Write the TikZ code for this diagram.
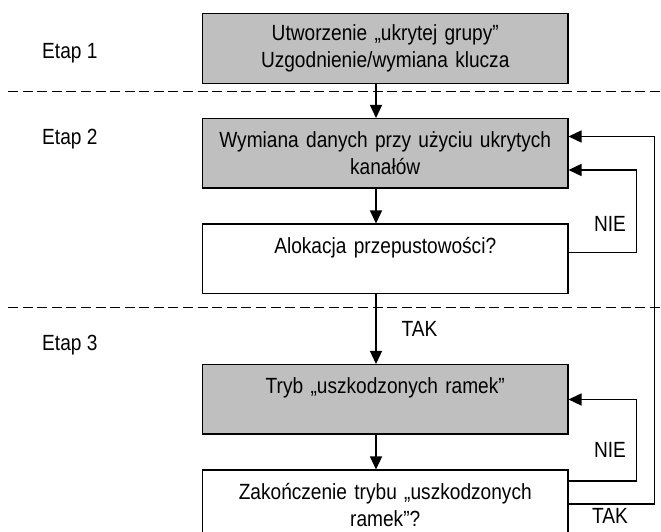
\documentclass[tikz,border=0pt]{standalone}
\usepackage{fontspec}
\setmainfont{Liberation Sans}[FakeStretch=0.87]
\usetikzlibrary{positioning,arrows.meta}

\begin{document}
\begin{tikzpicture}[
    font=\fontsize{12.5}{15.4}\selectfont,
    stepbox/.style={draw,line width=0.85pt,minimum width=7.3cm,minimum height=1.39cm,
                    text width=7cm,align=center,inner sep=0pt},
    grey/.style={fill=black!25},
    flow/.style={line width=0.85pt,-{Triangle[length=7.4pt,width=6.8pt]}},
    stage/.style={draw,line width=0.85pt,dash pattern=on 5.7pt off 2.6pt}]
\useasboundingbox (0,0) rectangle (13.22,-10.62);
% boxes
\node [stepbox,grey,anchor=north west] (b1) at (4.04,-0.26)
    {Utworzenie „ukrytej grupy”\\Uzgodnienie/wymiana klucza};
\node [stepbox,grey,below=0.68cm of b1] (b2)
    {Wymiana danych przy użyciu ukrytych\\kanałów};
\node [stepbox,below=0.69cm of b2] (b3)
    {Alokacja przepustowości?\\\mbox{}};
\node [stepbox,grey,below=1.39cm of b3] (b4)
    {Tryb „uszkodzonych ramek”\\\mbox{}};
\node [stepbox,below=0.69cm of b4] (b5)
    {Zakończenie trybu „uszkodzonych\\ramek”?};
% stages
\node [anchor=west] (e1) at (0.72,-1.06) {Etap 1};
\node [anchor=west] (e2) at (0.72,-2.78) {Etap 2};
\node [anchor=west] (e3) at (0.72,-6.90) {Etap 3};
\coordinate (l1) at (0.16,-1.83);
\coordinate (r1) at (13.22,-1.83);
\coordinate (l2) at (0.16,-6.15);
\coordinate (r2) at (13.22,-6.15);
\draw [stage] (l1) -- (r1);
\draw [stage] (l2) -- (r2);
% main flow
\coordinate (axis) at (7.52,0);
\draw [flow] (b1.south -| axis) -- (b2.north -| axis);
\draw [flow] (b2.south -| axis) -- (b3.north -| axis);
\draw [flow] (b3.south -| axis) -- (b4.north -| axis);
\draw [flow] (b4.south -| axis) -- (b5.north -| axis);
\node (tak1) at (8.39,-6.57) {TAK};
% loops
\draw [flow] ([yshift=0.13cm]b3.east) -- ++(1.36,0) |- ([yshift=-0.33cm]b2.east);
\draw [flow] ([yshift=0.475cm]b5.east) -- ++(1.36,0) |- (b4.east);
\draw [flow] ([yshift=0.02cm]b5.east) -- ++(1.72,0) |- ([yshift=0.34cm]b2.east);
\node (nie1) at (12.2,-4.48) {NIE};
\node (nie2) at (12.2,-9.0) {NIE};
\node (tak2) at (12.2,-10.32) {TAK};
\end{tikzpicture}
\end{document}
